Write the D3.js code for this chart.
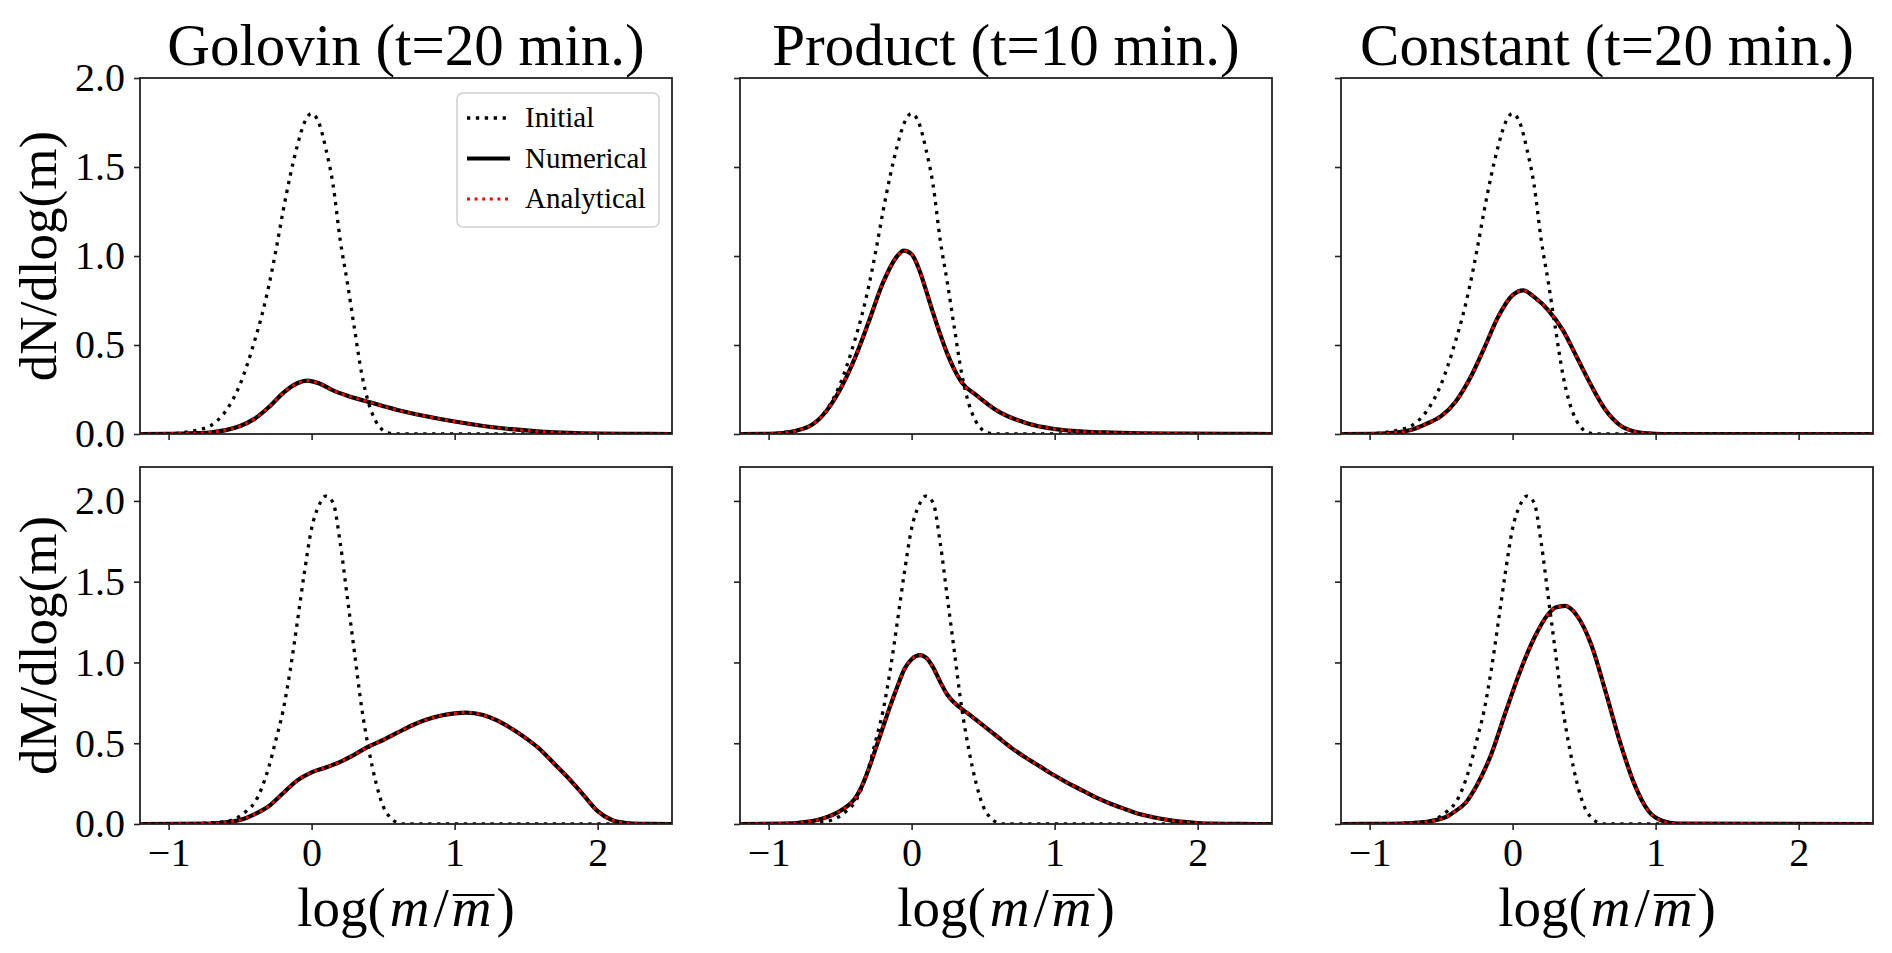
<!DOCTYPE html>
<html>
<head>
<meta charset="utf-8">
<script src="https://cdn.jsdelivr.net/npm/d3@7"></script>
<style>
  body { margin: 0; background: #fff; }
  svg text { font-family: "Liberation Serif", "Times New Roman", serif; fill: #000; }
</style>
</head>
<body>
<svg id="chart" width="1892" height="953"></svg>
<script>
// titles / labels
const titles = ["Golovin (t=20 min.)", "Product (t=10 min.)", "Constant (t=20 min.)"];
const yLabels = ["dN/dlog(m)", "dM/dlog(m)"];
const legendNames = ["Initial", "Numerical", "Analytical"];
const xTicks = [-1, 0, 1, 2];
const yTicks = [0, 0.5, 1.0, 1.5, 2.0];

// initial distribution (same in every column)
const xInitN = [-1.2, -1.0, -0.9, -0.8, -0.7, -0.6, -0.5, -0.45, -0.4, -0.35, -0.3, -0.25, -0.2, -0.15, -0.1, -0.05, 0, 0.05, 0.1, 0.15, 0.2, 0.25, 0.3, 0.35, 0.4, 0.45, 0.5, 0.55, 0.6, 2.52];
const initN  = [0, 0.002, 0.008, 0.022, 0.05, 0.13, 0.28, 0.39, 0.52, 0.66, 0.83, 1.03, 1.25, 1.45, 1.62, 1.75, 1.80, 1.75, 1.60, 1.40, 1.09, 0.85, 0.59, 0.34, 0.17, 0.07, 0.02, 0.004, 0, 0];
const xInitM = [-1.2, -0.9, -0.8, -0.7, -0.6, -0.5, -0.45, -0.4, -0.35, -0.3, -0.25, -0.2, -0.15, -0.1, -0.05, 0, 0.05, 0.1, 0.15, 0.2, 0.25, 0.3, 0.35, 0.4, 0.45, 0.5, 0.55, 0.6, 0.65, 2.52];
const initM  = [0, 0.001, 0.003, 0.008, 0.015, 0.05, 0.085, 0.13, 0.22, 0.35, 0.52, 0.70, 0.95, 1.25, 1.56, 1.83, 1.97, 2.03, 1.99, 1.74, 1.40, 1.06, 0.72, 0.46, 0.256, 0.11, 0.04, 0.008, 0, 0];

// Golovin
const xGolN = [-1.2, -1.0, -0.9, -0.8, -0.7, -0.6, -0.5, -0.4, -0.3, -0.2, -0.1, -0.03, 0.05, 0.15, 0.25, 0.4, 0.6, 0.8, 1.0, 1.2, 1.4, 1.6, 1.8, 2.0, 2.2, 2.52];
const golN  = [0, 0.001, 0.002, 0.005, 0.01, 0.022, 0.045, 0.085, 0.15, 0.23, 0.285, 0.30, 0.285, 0.245, 0.215, 0.18, 0.135, 0.10, 0.07, 0.045, 0.027, 0.014, 0.006, 0.002, 0.0005, 0];
const xGolM = [-1.2, -0.7, -0.6, -0.5, -0.4, -0.3, -0.2, -0.1, 0, 0.1, 0.2, 0.3, 0.4, 0.5, 0.6, 0.7, 0.8, 0.9, 1.0, 1.08, 1.2, 1.3, 1.4, 1.5, 1.6, 1.7, 1.8, 1.9, 2.0, 2.1, 2.2, 2.3, 2.52];
const golM  = [0, 0.003, 0.01, 0.025, 0.06, 0.11, 0.19, 0.27, 0.32, 0.35, 0.385, 0.43, 0.48, 0.52, 0.565, 0.61, 0.645, 0.67, 0.685, 0.69, 0.675, 0.64, 0.59, 0.53, 0.46, 0.37, 0.28, 0.18, 0.08, 0.025, 0.006, 0.001, 0];

// Product
const xProdN = [-1.2, -1.0, -0.9, -0.8, -0.7, -0.6, -0.5, -0.4, -0.3, -0.2, -0.1, -0.054, 0, 0.05, 0.1, 0.15, 0.2, 0.25, 0.3, 0.35, 0.45, 0.6, 0.8, 1.0, 1.2, 1.4, 1.6, 1.9, 2.2, 2.52];
const prodN  = [0, 0.001, 0.005, 0.02, 0.05, 0.125, 0.25, 0.42, 0.63, 0.85, 1.0, 1.03, 1.01, 0.93, 0.81, 0.68, 0.56, 0.45, 0.36, 0.29, 0.22, 0.13, 0.062, 0.028, 0.014, 0.008, 0.004, 0.002, 0.0005, 0];
const xProdM = [-1.2, -0.85, -0.75, -0.66, -0.6, -0.52, -0.45, -0.4, -0.35, -0.3, -0.25, -0.2, -0.15, -0.1, -0.05, 0, 0.06, 0.1, 0.15, 0.2, 0.25, 0.3, 0.4, 0.5, 0.6, 0.7, 0.8, 0.9, 1.0, 1.1, 1.2, 1.3, 1.4, 1.5, 1.6, 1.7, 1.8, 1.9, 2.0, 2.1, 2.3, 2.52];
const prodM  = [0, 0.004, 0.012, 0.025, 0.04, 0.07, 0.11, 0.153, 0.23, 0.34, 0.47, 0.60, 0.73, 0.85, 0.96, 1.02, 1.045, 1.03, 0.97, 0.88, 0.80, 0.75, 0.68, 0.61, 0.54, 0.47, 0.41, 0.355, 0.30, 0.25, 0.205, 0.16, 0.122, 0.09, 0.06, 0.04, 0.024, 0.013, 0.006, 0.002, 0.0003, 0];

// Constant
const xConstN = [-1.2, -0.97, -0.8, -0.7, -0.6, -0.5, -0.4, -0.3, -0.2, -0.1, 0, 0.076, 0.15, 0.25, 0.35, 0.45, 0.55, 0.65, 0.75, 0.85, 0.95, 1.05, 2.52];
const constN  = [0, 0.001, 0.009, 0.025, 0.058, 0.10, 0.18, 0.31, 0.48, 0.66, 0.78, 0.807, 0.77, 0.695, 0.585, 0.43, 0.272, 0.135, 0.05, 0.014, 0.003, 0, 0];
const xConstM = [-1.2, -0.85, -0.7, -0.6, -0.5, -0.45, -0.4, -0.33, -0.25, -0.15, -0.05, 0.05, 0.15, 0.25, 0.3, 0.367, 0.45, 0.55, 0.65, 0.75, 0.85, 0.95, 1.05, 1.15, 2.52];
const constM  = [0, 0.001, 0.006, 0.014, 0.032, 0.05, 0.08, 0.13, 0.24, 0.43, 0.69, 0.94, 1.15, 1.30, 1.34, 1.35, 1.29, 1.11, 0.82, 0.51, 0.25, 0.08, 0.018, 0.002, 0];

const svg = d3.select("#chart");

const panelLeft = [140, 740, 1341], panelW = 532;
const rows = [
  {top: 78,  bottom: 434, ymax: 2.0,  init: [xInitN, initN], curves: [[xGolN, golN], [xProdN, prodN], [xConstN, constN]]},
  {top: 467, bottom: 824, ymax: 2.21, init: [xInitM, initM], curves: [[xGolM, golM], [xProdM, prodM], [xConstM, constM]]}
];

const fmtX = d => d < 0 ? "\u2212" + Math.abs(d) : String(d);

const initStyle = {stroke: "#000", width: 3.3, dash: "3.3,5.6"};
const numStyle = {stroke: "#000", width: 4.2, dash: null};
const anaStyle = {stroke: "#ff0000", width: 3, dash: "3,4.6"};

// x label pieces: [text, italic, gap before]
const xLabelParts = [["log(", false, 0], ["m", true, 4], ["/", false, 4], ["m", true, 3], [")", false, 5]];
const xLabelBase = 926;

rows.forEach((row, r) => {
  panelLeft.forEach((left, c) => {
    const x = d3.scaleLinear().domain([-1.2, 2.52]).range([left, left + panelW]);
    const y = d3.scaleLinear().domain([0, row.ymax]).range([row.bottom, row.top]);
    const g = svg.append("g");

    const clipId = "clip" + r + c;
    g.append("clipPath").attr("id", clipId)
      .append("rect")
      .attr("x", left).attr("y", row.top)
      .attr("width", panelW).attr("height", row.bottom - row.top);

    const line = d3.line()
      .x(d => x(d[0]))
      .y(d => y(d[1]))
      .curve(d3.curveMonotoneX);

    const lines = g.append("g").attr("clip-path", "url(#" + clipId + ")");
    const pts = d3.zip(row.curves[c][0], row.curves[c][1]);
    [[d3.zip(row.init[0], row.init[1]), initStyle], [pts, numStyle], [pts, anaStyle]].forEach(([data, st]) => {
      lines.append("path")
        .attr("d", line(data))
        .attr("fill", "none").attr("stroke", st.stroke)
        .attr("stroke-width", st.width)
        .attr("stroke-dasharray", st.dash);
    });

    // axes
    const xAxis = d3.axisBottom(x).tickValues(xTicks).tickSize(6).tickPadding(8)
      .tickFormat(r === 1 ? fmtX : "");
    const gx = g.append("g").attr("transform", "translate(0," + row.bottom + ")").call(xAxis);
    const yAxis = d3.axisLeft(y).tickValues(yTicks).tickSize(6).tickPadding(9)
      .tickFormat(c === 0 ? d3.format(".1f") : "");
    const gy = g.append("g").attr("transform", "translate(" + left + ",0)").call(yAxis);
    [gx, gy].forEach(a => {
      a.select(".domain").remove();
      a.selectAll(".tick line").attr("stroke", "#222").attr("stroke-width", 1.6);
      a.selectAll(".tick text").style("font-size", "40px").attr("fill", "#000");
    });

    // spines
    g.append("rect")
      .attr("x", left).attr("y", row.top)
      .attr("width", panelW).attr("height", row.bottom - row.top)
      .attr("fill", "none").attr("stroke", "#222").attr("stroke-width", 1.8);

    if (r === 0) {
      g.append("text")
        .attr("x", left + panelW / 2).attr("y", 65)
        .attr("text-anchor", "middle")
        .style("font-size", "59px")
        .text(titles[c]);
    }

    if (r === 1) {
      // pieces laid out side by side, then centred under the panel
      const lg = g.append("g");
      let cx = 0;
      const pieces = xLabelParts.map(([t, it, gap]) => {
        cx += gap;
        const el = lg.append("text")
          .attr("x", cx).attr("y", xLabelBase)
          .style("font-size", "55px")
          .style("font-style", it ? "italic" : "normal")
          .text(t);
        const w = el.node().getComputedTextLength();
        const p = {x0: cx, w};
        cx += w;
        return p;
      });
      lg.attr("transform", "translate(" + (left + panelW / 2 - cx / 2) + ",0)");
      const m2 = pieces[3];
      lg.append("line")
        .attr("x1", m2.x0 + 1).attr("x2", m2.x0 + m2.w + 3)
        .attr("y1", xLabelBase - 31).attr("y2", xLabelBase - 31)
        .attr("stroke", "#000").attr("stroke-width", 2.2);
    }

    if (c === 0) {
      g.append("text")
        .attr("transform", "translate(56," + (row.top + row.bottom) / 2 + ") rotate(-90)")
        .attr("text-anchor", "middle")
        .style("font-size", "53px")
        .text(yLabels[r]);
    }
  });
});

// legend in the top-left panel
const leg = svg.append("g");
leg.append("rect")
  .attr("x", 457).attr("y", 93).attr("width", 202).attr("height", 134)
  .attr("rx", 6).attr("ry", 6)
  .attr("fill", "#fff").attr("fill-opacity", 0.8)
  .attr("stroke", "#d0d0d0").attr("stroke-width", 1.5);
[initStyle, numStyle, anaStyle].forEach((st, i) => {
  const yy = 118 + i * 40.5;
  leg.append("line")
    .attr("x1", 467).attr("x2", 510).attr("y1", yy).attr("y2", yy)
    .attr("stroke", st.stroke)
    .attr("stroke-width", st.width)
    .attr("stroke-dasharray", st.dash);
  leg.append("text")
    .attr("x", 525).attr("y", yy + 9)
    .style("font-size", "29px")
    .text(legendNames[i]);
});
</script>
</body>
</html>
